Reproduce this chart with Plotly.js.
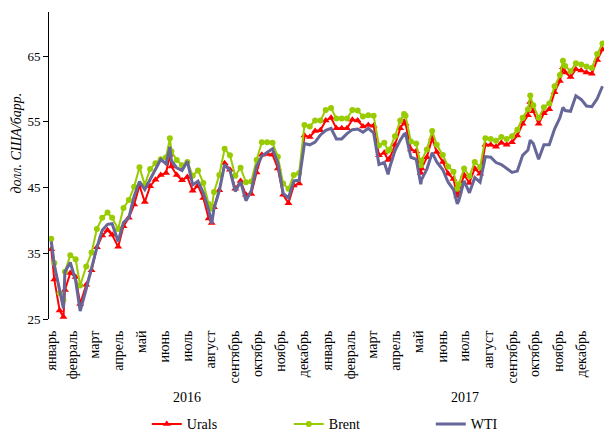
<!DOCTYPE html>
<html><head><meta charset="utf-8">
<script src="https://cdn.plot.ly/plotly-3.0.1.min.js"></script>
<style>html,body{margin:0;padding:0;background:#fff}#chart{width:604px;height:434px}</style>
</head><body><div id="chart"></div>
<script>
const dates = [
"2016-01-04","2016-01-08","2016-01-15","2016-01-20","2016-01-22","2016-01-29","2016-02-05","2016-02-11","2016-02-19","2016-02-26",
"2016-03-04","2016-03-11","2016-03-18","2016-03-24","2016-04-01","2016-04-08","2016-04-15","2016-04-22","2016-04-29","2016-05-06",
"2016-05-13","2016-05-20","2016-05-27","2016-06-03","2016-06-08","2016-06-10","2016-06-17","2016-06-24","2016-07-01","2016-07-08",
"2016-07-15","2016-07-22","2016-07-29","2016-08-02","2016-08-05","2016-08-12","2016-08-19","2016-08-26","2016-09-02","2016-09-09",
"2016-09-16","2016-09-23","2016-09-30","2016-10-07","2016-10-14","2016-10-21","2016-10-28","2016-11-04","2016-11-11","2016-11-18",
"2016-11-25","2016-12-02","2016-12-09","2016-12-16","2016-12-23","2016-12-30",
"2017-01-06","2017-01-13","2017-01-20","2017-01-27","2017-02-03","2017-02-10","2017-02-17","2017-02-24","2017-03-03","2017-03-10",
"2017-03-17","2017-03-22","2017-03-24","2017-03-31","2017-04-07","2017-04-12","2017-04-14","2017-04-21","2017-04-28","2017-05-04",
"2017-05-05","2017-05-12","2017-05-19","2017-05-25","2017-06-02","2017-06-09","2017-06-16","2017-06-21","2017-06-23","2017-06-30",
"2017-07-07","2017-07-14","2017-07-21","2017-07-28","2017-08-04","2017-08-11","2017-08-18","2017-08-25","2017-09-01","2017-09-08",
"2017-09-15","2017-09-22","2017-09-25","2017-09-29","2017-10-06","2017-10-13","2017-10-20","2017-10-27","2017-11-03","2017-11-07",
"2017-11-10","2017-11-17","2017-11-24","2017-12-01","2017-12-08","2017-12-15","2017-12-22","2017-12-29"];

const urals = [
35.6,31.0,26.3,25.3,29.4,32.0,31.4,27.3,30.2,32.4,
35.9,37.7,38.5,37.8,36.0,39.1,40.4,42.4,45.3,42.8,
45.2,46.2,46.9,47.2,50.0,48.2,46.9,46.1,46.6,44.5,
45.3,43.4,40.3,39.6,42.0,44.6,48.7,47.7,44.8,46.0,
43.9,44.0,47.3,50.0,50.1,50.0,47.9,43.9,42.6,45.3,
45.6,52.9,52.7,53.6,53.7,55.2,
55.6,54.0,54.0,54.0,55.3,55.2,54.3,54.5,54.4,49.9,
50.3,49.2,49.4,51.5,54.0,55.0,54.7,50.8,50.5,47.2,
47.9,49.6,52.5,50.4,48.9,47.1,46.3,43.7,44.4,46.9,
45.7,47.9,47.1,51.5,51.5,51.2,51.8,51.5,51.9,52.9,
54.7,56.0,58.0,56.6,54.7,56.3,56.9,59.5,61.2,63.3,
62.5,61.8,63.0,62.8,62.5,62.3,64.4,66.0];

const brent = [
37.2,33.5,28.9,27.9,32.2,34.7,34.1,30.1,33.0,35.1,
38.7,40.4,41.2,40.4,38.7,41.9,43.1,45.1,48.1,45.4,
47.8,48.7,49.3,49.6,52.5,50.5,49.2,48.4,48.9,46.8,
47.6,45.7,42.5,41.8,44.3,46.9,50.9,49.9,46.8,48.0,
45.8,45.9,49.2,51.9,51.9,51.8,49.7,45.6,44.8,46.9,
47.2,54.5,54.3,55.2,55.2,56.8,
57.1,55.5,55.5,55.5,56.8,56.7,55.8,56.0,55.9,51.4,
51.8,50.6,50.8,52.8,55.2,56.2,55.9,52.0,51.7,48.4,
49.1,50.8,53.6,51.5,49.95,48.2,47.4,44.8,45.5,47.9,
46.7,48.9,48.1,52.5,52.4,52.1,52.7,52.4,52.8,53.8,
55.6,56.9,59.0,57.5,55.6,57.2,57.8,60.4,62.1,64.3,
63.5,62.7,63.9,63.7,63.4,63.2,65.3,66.9];

const wti = [
36.8,33.2,29.4,26.6,32.2,33.6,30.9,26.2,29.6,32.8,
35.9,38.5,39.4,39.5,36.8,39.7,40.4,43.7,45.9,44.7,
46.2,47.8,49.3,48.6,51.2,49.1,48.0,47.6,49.0,45.4,
45.95,44.2,41.6,39.5,41.8,44.5,48.5,47.6,44.4,45.9,
43.0,44.5,48.2,49.8,50.4,50.9,48.7,44.1,43.4,46.0,
46.1,51.7,51.5,51.9,53.0,53.7,
54.0,52.4,52.4,53.2,53.8,53.9,53.4,54.0,53.3,48.5,
48.8,47.0,48.0,50.6,52.2,53.1,53.2,49.6,49.3,45.5,
46.2,47.8,50.3,48.9,47.7,45.8,44.7,42.5,43.0,46.0,
44.2,46.5,45.8,49.7,49.6,48.8,48.5,47.9,47.3,47.5,
49.9,50.7,52.2,51.7,49.3,51.5,51.5,53.9,55.6,57.2,
56.7,56.6,58.95,58.4,57.4,57.3,58.5,60.4];

const monthTickVals = [
"2016-01-04","2016-02-01","2016-03-01","2016-04-01","2016-05-01","2016-06-01","2016-07-01","2016-08-01","2016-09-01","2016-10-01","2016-11-01","2016-12-01",
"2017-01-01","2017-02-01","2017-03-01","2017-04-01","2017-05-01","2017-06-01","2017-07-01","2017-08-01","2017-09-01","2017-10-01","2017-11-01","2017-12-01"];
const monthNames = ["январь","февраль","март","апрель","май","июнь","июль","август","сентябрь","октябрь","ноябрь","декабрь"];
const monthTickText = monthNames.concat(monthNames);
const yearLabels = ["2016","2017"];
const yearPositions = ["2016-07-01","2017-07-01"];

const font = "Liberation Serif, Times New Roman, serif";

const traces = [
  {x: dates, y: urals, name: "Urals", type: "scatter", mode: "lines+markers",
   line: {color: "#FF0000", width: 2}, marker: {symbol: "triangle-up", size: 7, color: "#FF0000"}},
  {x: dates, y: brent, name: "Brent", type: "scatter", mode: "lines+markers",
   line: {color: "#99CC00", width: 2}, marker: {symbol: "circle", size: 6, color: "#99CC00"}},
  {x: dates, y: wti, name: "WTI", type: "scatter", mode: "lines",
   line: {color: "#666699", width: 3}}
];

const annotations = yearLabels.map((t, i) => ({
  x: yearPositions[i], xref: "x", y: -0.257, yref: "paper", yanchor: "middle",
  text: t, showarrow: false, font: {family: font, size: 14, color: "#000"}
}));
annotations.push({
  x: -0.056, xref: "paper", xshift: -11, y: 0.573, yref: "paper", textangle: -90,
  text: "долл. США/барр.", showarrow: false,
  font: {family: font, size: 14, color: "#000", style: "italic"}
});

const layout = {
  width: 604, height: 434,
  margin: {l: 49, r: 0, t: 12, b: 115, autoexpand: false},
  paper_bgcolor: "#fff", plot_bgcolor: "#fff",
  font: {family: font, size: 13, color: "#000"},
  showlegend: true,
  legend: {orientation: "h", x: 0.56, xanchor: "center", y: -0.343, yref: "paper", yanchor: "middle",
           font: {family: font, size: 14, color: "#000"},
           entrywidth: 97, entrywidthmode: "pixels", tracegroupgap: 0},
  xaxis: {type: "date", range: ["2016-01-01", "2017-12-31"], automargin: false,
          tickmode: "array", tickvals: monthTickVals, ticktext: monthTickText,
          tickangle: -90, ticks: "outside", ticklen: 5, tickcolor: "rgba(0,0,0,0)",
          showgrid: false, zeroline: false, showline: false,
          tickfont: {family: font, size: 14, color: "#000"}},
  yaxis: {range: [25, 71.7], tickmode: "array", tickvals: [25, 35, 45, 55, 65], automargin: false,
          ticks: "outside", ticklen: 5, tickcolor: "#000", showline: true, linecolor: "#000", linewidth: 1,
          showgrid: false, zeroline: false, tickfont: {family: font, size: 13, color: "#000"}},
  annotations: annotations
};

Plotly.newPlot("chart", traces, layout, {displayModeBar: false, staticPlot: true});
</script>
</body></html>
